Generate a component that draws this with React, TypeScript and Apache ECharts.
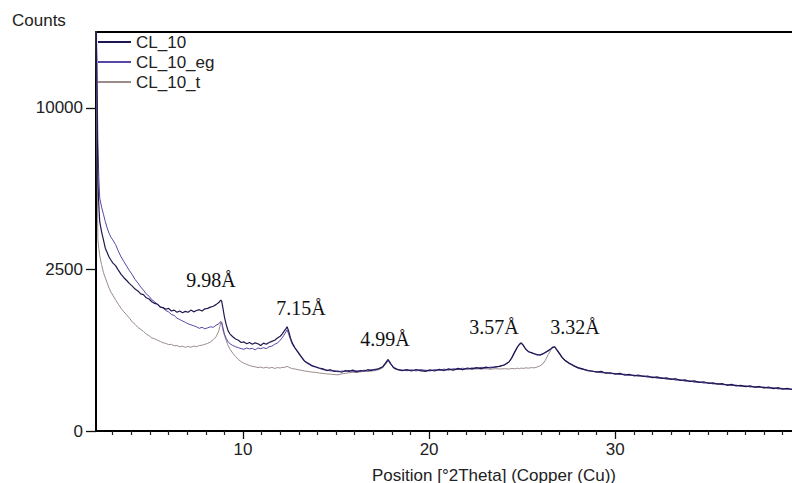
import { useEffect, useRef } from "react";
import * as echarts from "echarts";

// 2θ positions (degrees)
const twoTheta = [
  2.1, 2.15, 2.2, 2.25, 2.3, 2.4, 2.5, 2.6, 2.7, 2.8, 2.9, 3.0,
  3.15, 3.3, 3.45, 3.6, 3.75, 3.9, 4.05, 4.2, 4.35, 4.5, 4.65, 4.8, 4.95, 5.1, 5.25, 5.4, 5.55, 5.7, 5.85, 6.0, 6.15, 6.3, 6.45, 6.6, 6.75, 6.9, 7.05, 7.2, 7.35, 7.5, 7.65, 7.8, 7.95, 8.1, 8.25, 8.4, 8.55, 8.7,
  8.8, 8.85, 8.9, 9.0, 9.1, 9.2, 9.3, 9.45, 9.6, 9.75, 9.9,
  10.05, 10.2, 10.35, 10.5, 10.65, 10.8, 10.95, 11.1, 11.25, 11.4, 11.55, 11.7, 11.85, 12.0,
  12.1, 12.2, 12.3, 12.37, 12.45, 12.55, 12.65, 12.8, 12.95,
  13.1, 13.3, 13.5, 13.7, 13.9, 14.1, 14.3, 14.5, 14.7, 14.9, 15.1, 15.3, 15.5, 15.7, 15.9, 16.1, 16.3, 16.5, 16.7, 16.9, 17.1, 17.3, 17.5,
  17.65, 17.8, 17.95, 18.1,
  18.3, 18.55, 18.8, 19.05, 19.3, 19.55, 19.8, 20.05, 20.3, 20.55, 20.8, 21.05, 21.3, 21.55, 21.8, 22.05, 22.3, 22.55, 22.8, 23.05, 23.3, 23.55, 23.8, 24.05,
  24.3, 24.45, 24.6, 24.75, 24.85, 24.95, 25.05, 25.2, 25.35, 25.5, 25.65, 25.8, 25.95, 26.1, 26.25, 26.4, 26.55, 26.65, 26.75, 26.85, 27.0, 27.15, 27.3,
  27.5, 27.75, 28.0, 28.25, 28.5, 28.75, 29.0, 29.25, 29.5, 29.75, 30.0, 30.25, 30.5, 30.75, 31.0, 31.25, 31.5, 31.75, 32.0, 32.25, 32.5, 32.75, 33.0, 33.25, 33.5, 33.75, 34.0, 34.25, 34.5, 34.75, 35.0, 35.25, 35.5, 35.75, 36.0, 36.25, 36.5, 36.75, 37.0, 37.25, 37.5, 37.75, 38.0, 38.25, 38.5, 38.75, 39.0, 39.25, 39.5,
];

// Counts
const cl10 = [
  17000, 11000, 6000, 4900, 4200, 3800, 3500, 3200, 3050, 2900, 2800, 2710,
  2620, 2480, 2350, 2250, 2170, 2080, 2010, 1930, 1880, 1800, 1780, 1700, 1670, 1600, 1560, 1540, 1470, 1460, 1420, 1440, 1380, 1400, 1350, 1380, 1340, 1370, 1350, 1400, 1360, 1390, 1410, 1380, 1430, 1440, 1470, 1490, 1530, 1580,
  1640, 1620, 1500, 1250, 1080, 960, 900, 850, 810, 790, 750,
  760, 730, 750, 720, 745, 730, 700, 740, 720, 750, 770, 790, 830, 860,
  900, 950, 1000, 1040, 960, 830, 740, 660, 600,
  540, 470, 440, 410, 395, 380, 370, 350, 360, 340, 345, 330, 350, 340, 355, 335, 350, 345, 360, 350, 365, 370, 395,
  440, 490, 430, 385,
  365, 350, 360, 345, 362, 350, 340, 358, 345, 365, 350, 370, 355, 375, 360, 380, 370, 385, 372, 390, 380, 395, 400, 420,
  460, 520, 600, 680, 720, 745, 710, 640, 600, 590, 570, 560, 550, 570, 590, 620, 650, 675, 680, 640, 580, 520, 480,
  445, 410, 385, 370, 350, 345, 332, 340, 320, 325, 310, 318, 300, 308, 292, 300, 285, 290, 272, 280, 265, 270, 255, 262, 245, 250, 235, 240, 226, 232, 218, 222, 210, 215, 200, 208, 195, 200, 188, 195, 183, 190, 178, 185, 172, 180, 168, 175, 165,
];

const cl10eg = [
  18000, 13000, 8000, 6200, 5200, 4800, 4500, 4200, 3950, 3750, 3600, 3500,
  3330, 3100, 2900, 2750, 2600, 2460, 2340, 2200, 2100, 1990, 1900, 1800, 1740, 1650, 1600, 1540, 1480, 1450, 1390, 1360, 1300, 1280, 1220, 1190, 1160, 1130, 1100, 1080, 1060, 1040, 1010, 1030, 1000, 1020, 1040, 1030, 1070, 1100,
  1150, 1130, 1060, 900, 820, 760, 730, 700, 680, 665, 650,
  640, 660, 645, 655, 630, 660, 650, 665, 650, 680, 690, 720, 740, 790,
  830, 880, 940, 980, 900, 800, 720, 650, 590,
  530, 465, 430, 405, 390, 375, 360, 355, 345, 350, 335, 345, 338, 352, 340, 348, 338, 355, 345, 362, 355, 375, 390,
  430, 480, 425, 380,
  360, 355, 348, 360, 345, 362, 352, 345, 362, 350, 368, 355, 372, 360, 378, 365, 382, 372, 388, 378, 392, 388, 405, 415,
  455, 510, 590, 670, 715, 735, 700, 635, 605, 580, 575, 550, 560, 565, 595, 610, 645, 670, 670, 630, 570, 515, 475,
  440, 415, 380, 365, 355, 340, 338, 325, 328, 315, 318, 305, 310, 295, 300, 288, 292, 278, 282, 268, 272, 258, 262, 248, 252, 238, 242, 228, 232, 220, 224, 212, 216, 205, 208, 198, 202, 192, 196, 186, 190, 182, 185, 176, 180, 170, 174, 165, 170,
];

const cl10t = [
  16000, 8000, 3500, 3200, 2950, 2650, 2400, 2250, 2100, 1960, 1850, 1770,
  1650, 1540, 1440, 1360, 1290, 1220, 1140, 1090, 1030, 990, 950, 900, 870, 830, 815, 790, 770, 745, 735, 715, 720, 695, 700, 680, 690, 670, 685, 672, 690, 680, 700, 705, 720, 735, 760, 800, 850, 960,
  1120, 1140, 1000, 880, 780, 700, 640, 580, 530, 490, 460,
  440, 425, 410, 400, 395, 385, 392, 380, 390, 378, 388, 375, 385, 380,
  390, 385, 395, 400, 392, 380, 372, 368, 360,
  355, 345, 340, 332, 330, 322, 318, 312, 310, 305, 302, 312, 318, 325, 330, 328, 335, 340, 338, 345, 350, 360, 380,
  425, 470, 420, 375,
  358, 350, 355, 350, 355, 345, 355, 350, 355, 358, 352, 360, 358, 365, 360, 368, 365, 370, 368, 372, 365, 372, 368, 372,
  368, 375, 370, 378, 372, 380, 375, 382, 378, 385, 382, 392, 405, 430, 480, 560, 630, 665, 675, 630, 565, 510, 470,
  438, 405, 378, 362, 352, 342, 335, 328, 322, 318, 312, 308, 302, 298, 294, 290, 285, 280, 275, 270, 266, 260, 256, 252, 246, 242, 237, 233, 228, 224, 220, 216, 212, 208, 204, 200, 197, 194, 190, 188, 185, 182, 179, 176, 174, 171, 169, 167, 165,
];

const seriesNames = ["CL_10", "CL_10_eg", "CL_10_t"];
const seriesData = [cl10, cl10eg, cl10t];
const seriesColors = ["#1e1850", "#5646a6", "#9c8b8b"];
const seriesWidths = [1.2, 1, 1];

const yTickCounts = [0, 2500, 10000];
const xMajorTicks = [10, 20, 30];
const xMinorTicks = [3, 4, 5, 6, 7, 8, 9, 11, 12, 13, 14, 15, 16, 17, 18, 19, 21, 22, 23, 24, 25, 26, 27, 28, 29, 31, 32, 33, 34, 35, 36, 37, 38, 39];

const peakLabels = ["9.98Å", "7.15Å", "4.99Å", "3.57Å", "3.32Å"];
const peakLabelPos = [
  [211, 280],
  [301, 308],
  [385, 339],
  [494, 327],
  [575, 327],
];

const X_MIN = 2.1;
const X_MAX = 39.5;
const Y_MAX_COUNTS = 15250;

const SANS = "'Liberation Sans', Arial, sans-serif";
const SERIF = "'Liberation Serif', 'Times New Roman', serif";

export default function App() {
  const ref = useRef<HTMLDivElement>(null);
  useEffect(() => {
    if (!ref.current) return;
    const chart = echarts.init(ref.current, undefined, { renderer: "svg" });
    const sqrtMax = Math.sqrt(Y_MAX_COUNTS);
    const yCustom = yTickCounts.map((v) => Math.sqrt(v));
    const option: any = {
      animation: false,
      backgroundColor: "#ffffff",
      grid: { left: 96, top: 32, right: 0, bottom: 52, containLabel: false },
      legend: {
        orient: "vertical",
        left: 98,
        top: 32,
        padding: 0,
        itemGap: 0,
        itemWidth: 33,
        itemHeight: 2,
        icon: "rect",
        data: seriesNames,
        textStyle: { fontFamily: SANS, fontSize: 17, color: "#222", lineHeight: 20 },
      },
      xAxis: [
        {
          type: "value",
          position: "bottom",
          min: X_MIN,
          max: X_MAX,
          axisLine: { show: true, onZero: false, lineStyle: { color: "#000", width: 2 } },
          axisTick: { show: true, customValues: xMajorTicks, length: 8, lineStyle: { color: "#111", width: 1.3 } },
          axisLabel: { customValues: xMajorTicks, fontFamily: SANS, fontSize: 17, color: "#222", margin: 10 },
          splitLine: { show: false },
        },
        {
          type: "value",
          position: "bottom",
          min: X_MIN,
          max: X_MAX,
          axisLine: { show: false, onZero: false },
          axisTick: { show: true, customValues: xMinorTicks, length: 4, lineStyle: { color: "#222", width: 1.2 } },
          axisLabel: { show: false },
          splitLine: { show: false },
        },
        {
          type: "value",
          position: "top",
          min: X_MIN,
          max: X_MAX,
          axisLine: { show: true, onZero: false, lineStyle: { color: "#000", width: 2 } },
          axisTick: { show: false },
          axisLabel: { show: false },
          splitLine: { show: false },
        },
      ],
      yAxis: {
        type: "value",
        min: 0,
        max: sqrtMax,
        interval: 50,
        axisLine: { show: true, onZero: false, lineStyle: { color: "#000", width: 2 } },
        axisTick: { show: true, customValues: yCustom, length: 10, lineStyle: { color: "#111", width: 1.3 } },
        axisLabel: {
          customValues: yCustom,
          formatter: (v: number) => String(Math.round(v * v)),
          fontFamily: SANS,
          fontSize: 17,
          color: "#222",
          margin: 13,
        },
        splitLine: { show: false },
      },
      series: seriesNames.map((name, si) => ({
        type: "line",
        name,
        xAxisIndex: 0,
        yAxisIndex: 0,
        showSymbol: false,
        symbol: "none",
        clip: true,
        z: 5 - si,
        color: seriesColors[si],
        lineStyle: { color: seriesColors[si], width: seriesWidths[si] },
        data: twoTheta
          .map((t, i) => (seriesData[si][i] === undefined ? null : [t, Math.sqrt(seriesData[si][i])]))
          .filter((p) => p !== null),
      })),
      graphic: [
        {
          type: "text",
          x: 12,
          y: 20,
          style: {
            text: "Counts",
            font: `17px ${SANS}`,
            fill: "#222",
            textAlign: "left",
            textVerticalAlign: "middle",
            align: "left",
            verticalAlign: "middle",
          },
        },
        {
          type: "text",
          x: 494,
          y: 475,
          style: {
            text: "Position [°2Theta] (Copper (Cu))",
            font: `17px ${SANS}`,
            fill: "#222",
            textAlign: "center",
            textVerticalAlign: "middle",
            align: "center",
            verticalAlign: "middle",
          },
        },
        ...peakLabels.map((t, i) => ({
          type: "text",
          x: peakLabelPos[i][0],
          y: peakLabelPos[i][1],
          z: 10,
          style: {
            text: t,
            font: `20px ${SERIF}`,
            fill: "#111",
            textAlign: "center",
            textVerticalAlign: "middle",
            align: "center",
            verticalAlign: "middle",
          },
        })),
      ],
    };
    chart.setOption(option);
    return () => chart.dispose();
  }, []);
  return (
    <div
      ref={ref}
      style={{ position: "fixed", left: 0, top: 0, width: 792, height: 483, background: "#fff" }}
    />
  );
}
